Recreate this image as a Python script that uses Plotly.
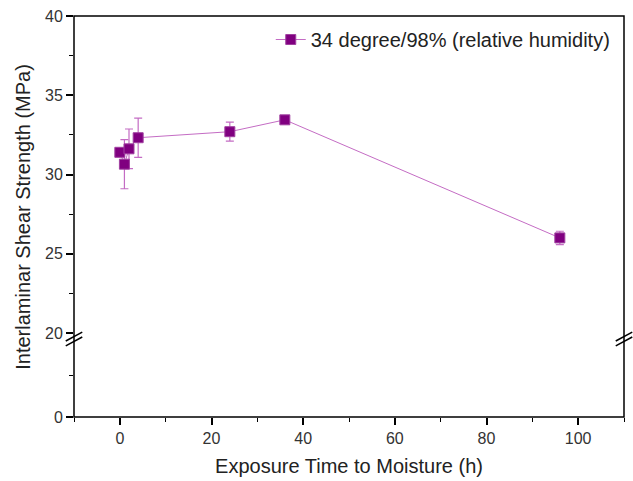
import plotly.graph_objects as go

exposure_h = [0, 1, 2, 4, 24, 36, 96]
ilss_mpa = [31.4, 30.65, 31.62, 32.32, 32.7, 33.45, 26.0]
ilss_err = [0.25, 1.55, 1.25, 1.24, 0.6, 0.2, 0.42]
series_name = "34 degree/98% (relative humidity)"

x_ticks = [0, 20, 40, 60, 80, 100]
y_upper_ticks = [20, 25, 30, 35, 40]
y_lower_ticks = [0]

W, H = 633, 481
ml, mr, mt, mb = 74, 9, 16, 64
plot_h = H - mt - mb
split = (417 - 333) / plot_h

font = "Liberation Sans, Arial, sans-serif"
fig = go.Figure()
fig.add_trace(go.Scatter(
    x=exposure_h, y=ilss_mpa, name=series_name, mode="lines+markers",
    line=dict(color="#c46cc4", width=1),
    marker=dict(symbol="square", size=10, color="#800080",
                line=dict(color="#a040a0", width=1)),
    error_y=dict(type="data", array=ilss_err, visible=True,
                 color="#c46cc4", thickness=1.2, width=4),
    yaxis="y", xaxis="x",
))

axis_common = dict(showline=False, zeroline=False, showgrid=False,
                   automargin=False,
                   ticks="outside", tickcolor="black", tickwidth=1.5,
                   tickfont=dict(family=font, size=16, color="#333"))

fig.update_layout(
    width=W, height=H,
    margin=dict(l=ml, r=mr, t=mt, b=mb),
    paper_bgcolor="white", plot_bgcolor="white",
    font=dict(family=font, color="#222"),
    xaxis=dict(range=[-10, 110], tickvals=x_ticks, ticklen=7,
               anchor="free", position=0,
               minor=dict(ticks="outside", dtick=10, tick0=0, ticklen=4,
                          tickcolor="black", tickwidth=1.2),
               title=dict(text="Exposure Time to Moisture (h)",
                          font=dict(family=font, size=20, color="#222"),
                          standoff=12),
               **axis_common),
    yaxis=dict(domain=[split, 1], range=[20, 40], tickvals=y_upper_ticks,
               ticklen=7, anchor="x",
               minor=dict(ticks="outside", dtick=2.5, tick0=20, ticklen=4,
                          tickcolor="black", tickwidth=1.2),
               **axis_common),
    yaxis2=dict(domain=[0, split], range=[0, 20], tickvals=y_lower_ticks,
                ticklen=7, anchor="x",
                minor=dict(ticks="outside", tickvals=[10], ticklen=4,
                           tickcolor="black", tickwidth=1.2),
                **axis_common),
    legend=dict(x=0.985, xanchor="right", y=0.99, yanchor="top",
                bgcolor="rgba(0,0,0,0)",
                font=dict(family=font, size=20, color="#222")),
    showlegend=True,
)

# invisible trace so the lower y axis is rendered
fig.add_trace(go.Scatter(x=[None], y=[None], xaxis="x", yaxis="y2",
                         showlegend=False, hoverinfo="skip"))

# frame
fig.add_shape(type="rect", xref="paper", yref="paper", x0=0, x1=1, y0=0, y1=1,
              line=dict(color="black", width=1.5), layer="above")
# axis break marks
for xp in (0, 1):
    for dy in (-0.006, 0.006):
        fig.add_shape(type="line", xref="paper", yref="paper",
                      x0=xp - 0.015, x1=xp + 0.015,
                      y0=split - 0.026 + dy, y1=split - 0.026 + dy + 0.022,
                      line=dict(color="black", width=1.5), layer="above")

fig.add_annotation(text="Interlaminar Shear Strength (MPa)", xref="paper", yref="paper",
                   x=-0.094, xanchor="center", y=0.5, yanchor="middle",
                   textangle=-90, showarrow=False,
                   font=dict(family=font, size=20, color="#222"))

fig.write_html("out.html", config={"displayModeBar": False},
               post_script="document.body.style.margin='0px';")
